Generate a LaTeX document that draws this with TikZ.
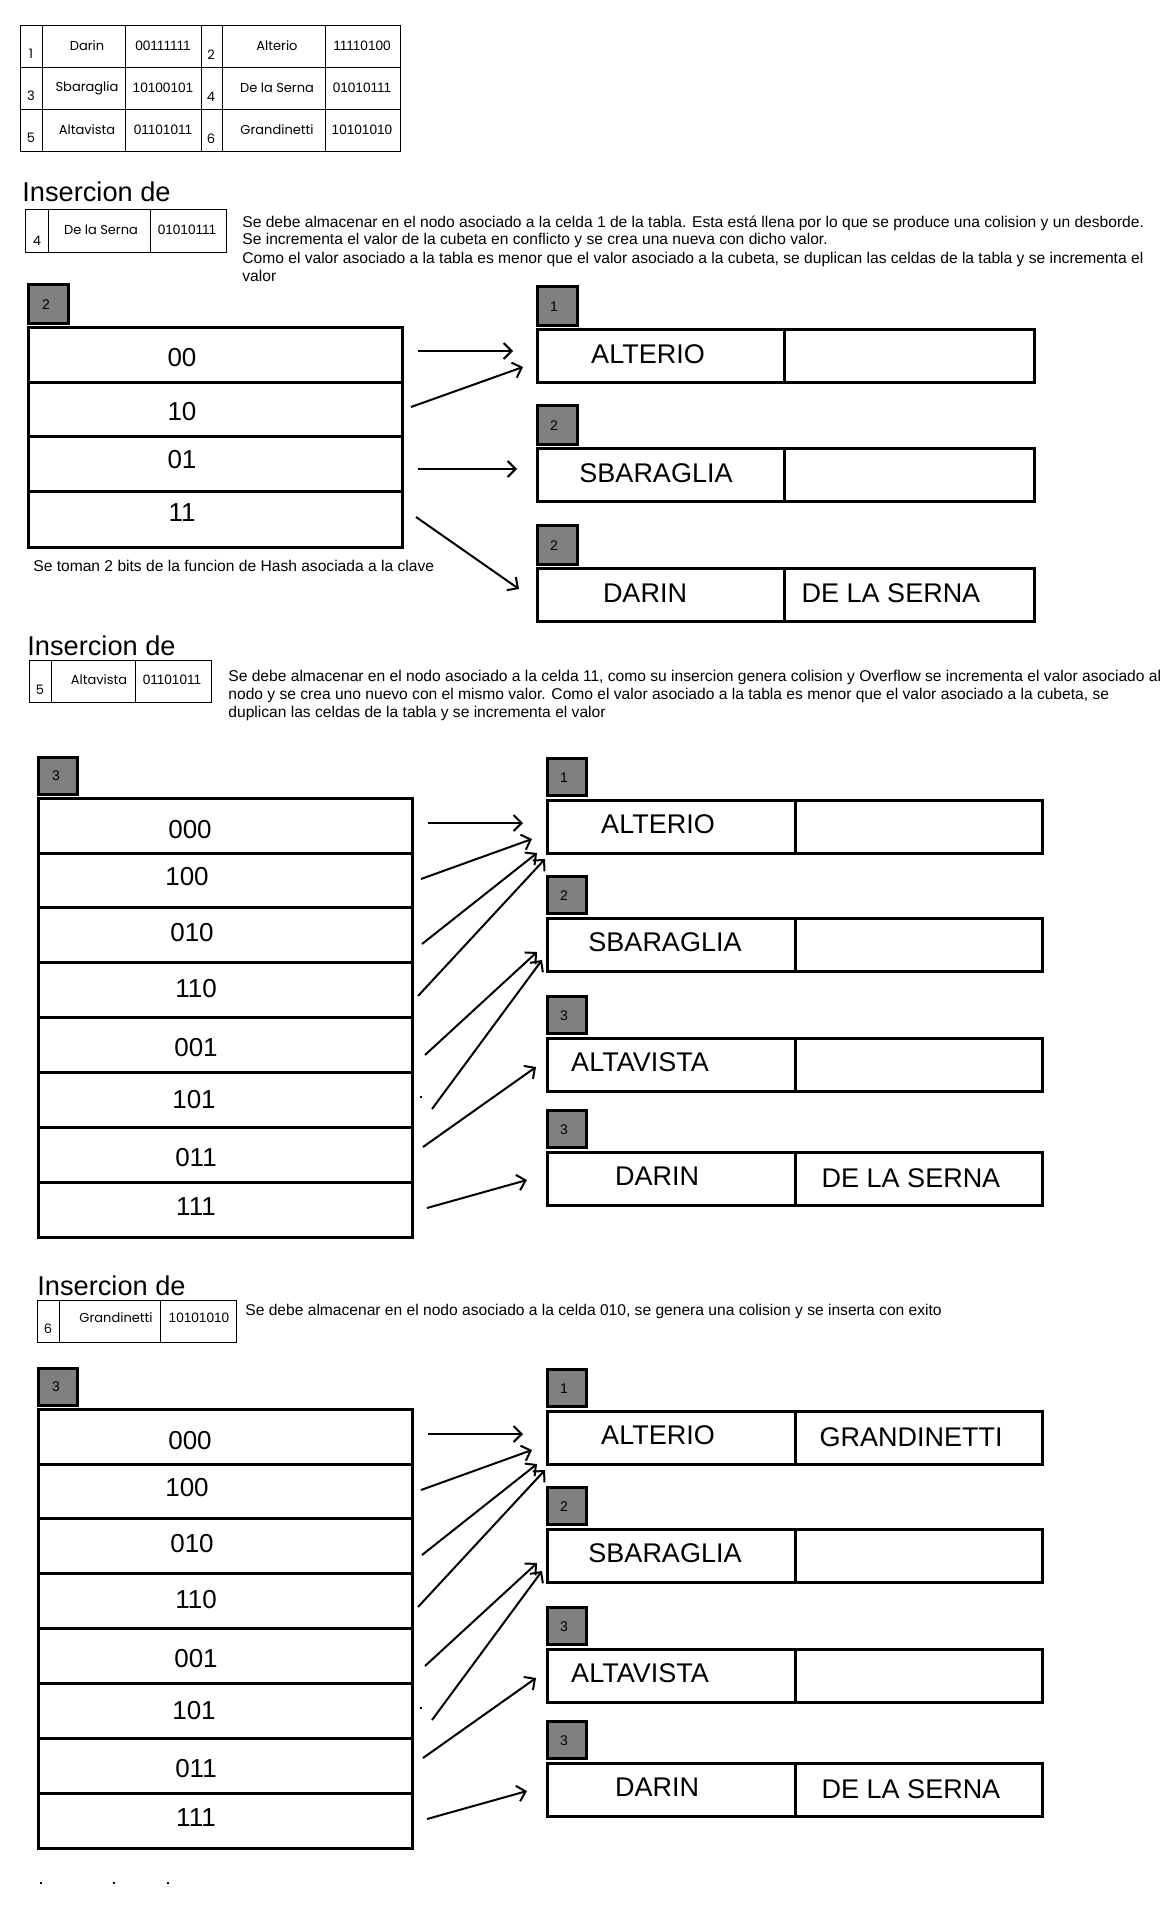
\documentclass[tikz,border=0pt]{standalone}
\usepackage{fontspec}
\setmainfont{Liberation Sans}
\newfontfamily\tabfont{Poppins}
\usetikzlibrary{arrows.meta}

\tikzset{
  every node/.style={inner sep=0pt},
  thinline/.style={line width=0.5pt},
  hashtab/.style={line width=1.5pt},
  levelbox/.style={draw, line width=1.5pt, fill=gray},
  link/.style={line width=1pt, -{Straight Barb[length=4pt,width=8pt]}},
  note/.style={font=\fontsize{7.8pt}{9pt}\selectfont, align=left, anchor=base west},
  heading/.style={font=\fontsize{13.6pt}{15pt}\selectfont, anchor=base west},
  rowlabel/.style={font=\fontsize{13pt}{15pt}\selectfont},
  bname/.style={font=\fontsize{13.5pt}{16pt}\selectfont},
  levelnum/.style={font=\fontsize{7pt}{8pt}\selectfont},
  cell/.style={font=\tabfont\fontsize{6.5pt}{8pt}\selectfont},
  code/.style={font=\fontsize{6.8pt}{8pt}\selectfont},
}

\begin{document}
\begin{tikzpicture}[x=0.5pt,y=-0.5pt]
  \useasboundingbox (0,0) rectangle (1164,1921);

  % claves y valores de hash
  \draw[thinline] (20,26) rectangle (400,152);
  \foreach \y in {68,110} \draw[thinline] (20,\y) -- (400,\y);
  \foreach \x in {42,125,201,222,325} \draw[thinline] (\x,26) -- (\x,152);
  \foreach \ya/\na/\ka/\ca/\nb/\kb/\cb in {47/1/Darin/00111111/2/Alterio/11110100,
      89/3/Sbaraglia/10100101/4/De la Serna/01010111,
      131/5/Altavista/01101011/6/Grandinetti/10101010}
  {
    \node[cell] (num\na) at (31,\ya+7) {\na};
    \node[cell] (key\na) at (87,\ya-1) {\ka};
    \node[code] (hash\na) at (163,\ya-1) {\ca};
    \node[cell] (num\nb) at (211,\ya+8) {\nb};
    \node[cell] (key\nb) at (277,\ya-1) {\kb};
    \node[code] (hash\nb) at (362,\ya-1) {\cb};
  }

  % insercion de De la Serna
  \node[heading] (head1) at (22,202) {Insercion de};
  \draw[thinline] (25,210) rectangle (226,253);
  \draw[thinline] (48,210) -- (48,253) (150,210) -- (150,253);
  \node[cell] (ins1n) at (37,241) {4};
  \node[cell] (ins1k) at (101,230) {De la Serna};
  \node[code] (ins1h) at (187,230) {01010111};
  \node[note] (note1) at (242,281) {Se debe almacenar en el nodo asociado a la celda 1 de la tabla. Esta está llena por lo que se produce una colision y un desborde.\\
    Se incrementa el valor de la cubeta en conflicto y se crea una nueva con dicho valor.\\
    Como el valor asociado a la tabla es menor que el valor asociado a la cubeta, se duplican las celdas de la tabla y se incrementa el\\
    valor};

  \draw[levelbox] (28,284) rectangle (68,323);
  \node[levelnum] (lev1) at (46,305) {2};
  \draw[hashtab] (28,327) rectangle (402,547);
  \foreach \y in {382,436,491} \draw[hashtab] (28,\y) -- (402,\y);
  \foreach \k/\y in {00/358,10/412,01/460,11/513}
    \node[rowlabel] (r1-\k) at (182,\y) {\k};
  \node[note] (bits) at (33,571) {Se toman 2 bits de la funcion de Hash asociada a la clave};

  \foreach \i/\d/\t/\xa/\a/\b in {1/1/286/648/ALTERIO/{}, 2/2/405/656/SBARAGLIA/{}, 3/2/525/645/DARIN/DE LA SERNA}
  {
    \draw[levelbox] (537,\t) rectangle (577,\t+39);
    \node[levelnum] (b1lev\i) at (554,\t+21) {\d};
    \draw[hashtab] (537,\t+43) rectangle (1034,\t+96) (784,\t+43) -- (784,\t+96);
    \node[bname] (b1a\i) at (\xa,\t+68) {\a};
    \node[bname] (b1b\i) at (891,\t+68) {\b};
  }

  \coordinate (s00) at (418,351); \coordinate (e00) at (513,351);
  \coordinate (s10) at (411,407); \coordinate (e10) at (523,367);
  \coordinate (s01) at (418,469); \coordinate (e01) at (517,469);
  \coordinate (s11) at (416,517); \coordinate (e11) at (519,589);
  \foreach \k in {00,10,01,11} \draw[link] (s\k) -- (e\k);

  % insercion de Altavista
  \node[heading] (head2) at (27,655) {Insercion de};
  \draw[thinline] (29,660) rectangle (211,702);
  \draw[thinline] (51,660) -- (51,702) (135,660) -- (135,702);
  \node[cell] (ins2n) at (40,690) {5};
  \node[cell] (ins2k) at (99,680) {Altavista};
  \node[code] (ins2h) at (172,680) {01101011};
  \node[note] (note2) at (228,717) {Se debe almacenar en el nodo asociado a la celda 11, como su insercion genera colision y Overflow se incrementa el valor asociado al\\
    nodo y se crea uno nuevo con el mismo valor. Como el valor asociado a la tabla es menor que el valor asociado a la cubeta, se\\
    duplican las celdas de la tabla y se incrementa el valor};

  % insercion de Grandinetti
  \node[heading] (head3) at (37,1295) {Insercion de};
  \draw[thinline] (37,1300) rectangle (236,1342);
  \draw[thinline] (59,1300) -- (59,1342) (160,1300) -- (160,1342);
  \node[cell] (ins3n) at (48,1329) {6};
  \node[cell] (ins3k) at (116,1318) {Grandinetti};
  \node[code] (ins3h) at (199,1318) {10101010};
  \node[note] (note3) at (245,1315) {Se debe almacenar en el nodo asociado a la celda 010, se genera una colision y se inserta con exito};

  % tablas de 3 bits
  \foreach \dy/\p/\extra in {0/t2/{}, 611/t3/GRANDINETTI}
  {
    \begin{scope}[shift={(0,\dy)}, name prefix=\p-]
      \draw[levelbox] (38,757) rectangle (77,794);
      \node[levelnum] (lev) at (56,776) {3};
      \draw[hashtab] (38,798) rectangle (412,1237);
      \foreach \y in {853,907,962,1017,1072,1127,1182} \draw[hashtab] (38,\y) -- (412,\y);
      \foreach \k/\x/\y in {000/190/830,100/187/877,010/192/933,110/196/989,
          001/196/1048,101/194/1100,011/196/1158,111/196/1207}
        \node[rowlabel] (r\k) at (\x,\y) {\k};

      \foreach \i/\d/\t/\xa/\a/\b in {1/1/758/658/ALTERIO/\extra, 2/2/876/665/SBARAGLIA/{},
          3/3/996/640/ALTAVISTA/{}, 4/3/1110/657/DARIN/DE LA SERNA}
      {
        \draw[levelbox] (547,\t) rectangle (586,\t+37);
        \node[levelnum] (lev\i) at (564,\t+20) {\d};
        \draw[hashtab] (547,\t+42) rectangle (1042,\t+95) (795,\t+42) -- (795,\t+95);
        \node[bname] (a\i) at (\xa,\t+66) {\a};
        \node[bname] (b\i) at (911,\t+68) {\b};
      }

      \coordinate (s000) at (428,823); \coordinate (e000) at (523,823);
      \coordinate (s100) at (421,879); \coordinate (e100) at (532,839);
      \coordinate (s010) at (422,944); \coordinate (e010) at (537,853);
      \coordinate (s110) at (418,996); \coordinate (e110) at (545,859);
      \coordinate (s001) at (425,1055); \coordinate (e001) at (537,952);
      \coordinate (s101) at (432,1109); \coordinate (e101) at (542,960);
      \coordinate (s011) at (423,1147); \coordinate (e011) at (536,1067);
      \coordinate (s111) at (427,1208); \coordinate (e111) at (527,1180);
      \foreach \k in {000,100,010,110,001,101,011,111} \draw[link] (s\k) -- (e\k);
      \fill (420,1096) rectangle (422,1098);
    \end{scope}
  }

  \foreach \x in {40,113,167} \fill (\x,1882) rectangle (\x+2,1884);
\end{tikzpicture}
\end{document}
